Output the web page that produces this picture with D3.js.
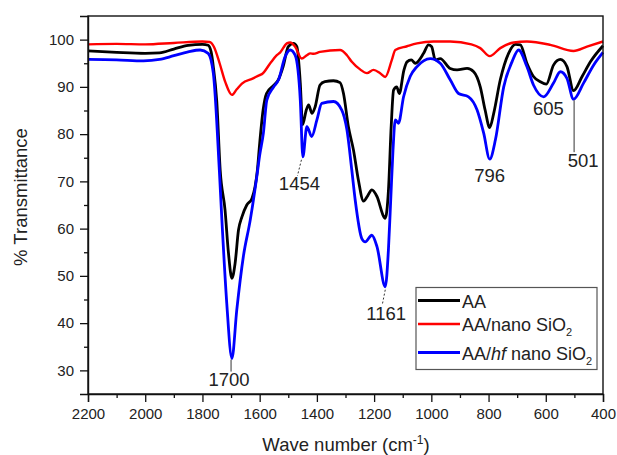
<!DOCTYPE html>
<html>
<head>
<meta charset="utf-8">
<script src="https://cdn.jsdelivr.net/npm/d3@7/dist/d3.min.js"></script>
<style>
  html, body { margin: 0; padding: 0; background: #fff; }
  svg { display: block; font-family: Arial, "Liberation Sans", sans-serif; }
</style>
</head>
<body>
<svg id="chart" width="617" height="455"></svg>
<script>
// FTIR spectra: wave number (cm-1) and % transmittance for each sample
const waveAA = [2200, 2100, 2000, 1950, 1900, 1850, 1800, 1780, 1770, 1762, 1750, 1738, 1721, 1709, 1697, 1686, 1674, 1662, 1645, 1627, 1616, 1608, 1600, 1588, 1576, 1553, 1535, 1518, 1500, 1482, 1470, 1458, 1450, 1437, 1429, 1417, 1406, 1389, 1372, 1342, 1319, 1307, 1290, 1272, 1255, 1237, 1222, 1208, 1190, 1165, 1161, 1150, 1140, 1132, 1121, 1112, 1096, 1085, 1070, 1056, 1027, 1010, 999, 986, 969, 934, 910, 875, 852, 829, 812, 796, 782, 759, 730, 706, 689, 666, 643, 619, 598, 573, 549, 526, 503, 473, 444, 400];
const transAA = [97.6, 97.3, 97.1, 97.2, 98.0, 98.8, 99.0, 98.8, 97.5, 94.3, 87.0, 72.4, 63.9, 54.8, 49.5, 52.6, 59.7, 62.5, 65.0, 66.4, 68.9, 72.4, 78.0, 85.1, 88.6, 90.2, 91.5, 94.3, 98.5, 99.2, 98.5, 90.8, 82.0, 85.1, 86.2, 84.4, 85.8, 90.4, 91.1, 91.3, 90.9, 88.6, 81.6, 76.6, 70.3, 65.8, 67.0, 68.2, 66.8, 62.4, 62.2, 68.0, 82.0, 89.3, 90.0, 88.6, 93.5, 95.3, 95.7, 95.0, 97.1, 98.9, 98.5, 95.7, 96.0, 93.9, 93.6, 93.9, 93.2, 90.0, 85.1, 81.4, 84.4, 91.5, 97.1, 99.0, 98.9, 95.0, 92.2, 91.1, 90.6, 94.6, 95.8, 94.3, 89.2, 92.2, 95.3, 98.7];

const waveNano = [2200, 2100, 2000, 1900, 1800, 1775, 1760, 1740, 1720, 1697, 1680, 1662, 1623, 1600, 1592, 1563, 1540, 1528, 1505, 1493, 1476, 1453, 1435, 1423, 1412, 1389, 1319, 1295, 1278, 1249, 1225, 1202, 1179, 1161, 1138, 1126, 1085, 1050, 992, 934, 860, 829, 796, 759, 712, 666, 584, 503, 456, 400];
const transNano = [99.0, 99.1, 99.0, 99.3, 99.6, 99.5, 98.5, 95.0, 91.0, 88.3, 89.5, 90.7, 91.8, 92.5, 92.7, 95.0, 96.7, 97.3, 99.2, 99.4, 98.5, 96.0, 96.7, 97.1, 97.0, 97.4, 97.8, 96.7, 95.3, 93.7, 92.9, 93.6, 92.9, 92.1, 95.7, 97.8, 98.6, 99.2, 99.6, 99.6, 99.0, 98.2, 96.5, 98.2, 99.4, 99.6, 98.9, 97.6, 98.5, 99.6];

const waveHf = [2200, 2100, 2006, 1950, 1900, 1850, 1808, 1780, 1762, 1741, 1732, 1715, 1697, 1680, 1657, 1633, 1610, 1600, 1587, 1575, 1552, 1534, 1511, 1493, 1476, 1458, 1449, 1435, 1418, 1400, 1383, 1342, 1313, 1295, 1278, 1266, 1243, 1231, 1208, 1190, 1161, 1150, 1142, 1134, 1126, 1115, 1097, 1074, 1050, 1004, 969, 934, 905, 870, 840, 817, 796, 776, 747, 718, 695, 666, 643, 607, 573, 549, 526, 503, 468, 433, 400];
const transHf = [95.8, 95.7, 95.5, 95.8, 96.6, 97.4, 97.8, 97.1, 92.9, 72.4, 61.8, 44.2, 32.5, 42.8, 54.1, 61.8, 71.0, 75.5, 80.2, 87.2, 89.9, 91.5, 96.4, 97.8, 96.7, 87.2, 75.2, 81.6, 79.5, 83.0, 86.5, 86.9, 85.1, 80.9, 72.4, 66.0, 57.9, 57.2, 58.6, 56.2, 47.7, 55.5, 66.0, 76.6, 83.0, 82.3, 87.9, 92.2, 94.3, 96.0, 95.0, 91.5, 88.6, 87.9, 85.1, 80.2, 74.7, 78.8, 90.0, 95.3, 97.8, 94.3, 90.4, 87.9, 90.8, 93.2, 91.8, 87.4, 90.8, 94.6, 97.3];

const seriesNames = ["AA", "AA/nano SiO2", "AA/hf nano SiO2"];
const seriesColors = ["#000000", "#ff0000", "#0000ff"];

const xTicks = [2200, 2000, 1800, 1600, 1400, 1200, 1000, 800, 600, 400];
const yTicks = [30, 40, 50, 60, 70, 80, 90, 100];

// Peak annotations: labelled wave number and the curve it points at
const peakWaves = [1700, 1454, 1161, 796, 605, 501];
const peakSeries = [2, 2, 2, 2, 2, 2];

const svg = d3.select("#chart");
const plotLeft = 88, plotRight = 603, plotTop = 16, plotBottom = 394;

const x = d3.scaleLinear().domain([2200, 400]).range([plotLeft, plotRight]);
const y = d3.scaleLinear().domain([25, 105]).range([plotBottom, plotTop]);

const series = [
  { wave: waveAA, trans: transAA },
  { wave: waveNano, trans: transNano },
  { wave: waveHf, trans: transHf }
];

const line = d3.line()
  .x(d => x(d[0]))
  .y(d => y(d[1]))
  .curve(d3.curveMonotoneX);

// draw order: AA, hf, nano on top
const drawOrder = [0, 2, 1];
const widths = [2.8, 2.4, 2.8];
drawOrder.forEach(i => {
  const pts = series[i].wave.map((w, k) => [w, series[i].trans[k]]);
  svg.append("path")
    .datum(pts)
    .attr("fill", "none")
    .attr("stroke", seriesColors[i])
    .attr("stroke-width", widths[i])
    .attr("stroke-linejoin", "round")
    .attr("d", line);
});

// frame
svg.append("rect")
  .attr("x", plotLeft).attr("y", plotTop)
  .attr("width", plotRight - plotLeft).attr("height", plotBottom - plotTop)
  .attr("fill", "none").attr("stroke", "#111").attr("stroke-width", 1.4);

// axes
const xAxis = d3.axisBottom(x).tickValues(xTicks).tickSize(8).tickPadding(6).tickFormat(d3.format("d"));
svg.append("g").attr("transform", `translate(0,${plotBottom})`).call(xAxis);
const xMinor = d3.axisBottom(x).tickValues(d3.range(2100, 400, -200)).tickSize(4).tickFormat("");
svg.append("g").attr("transform", `translate(0,${plotBottom})`).call(xMinor).select(".domain").remove();

const yAxis = d3.axisLeft(y).tickValues(yTicks).tickSize(8).tickPadding(6).tickFormat(d3.format("d"));
svg.append("g").attr("transform", `translate(${plotLeft},0)`).call(yAxis);
const yMinor = d3.axisLeft(y).tickValues(d3.range(35, 100, 10)).tickSize(4).tickFormat("");
svg.append("g").attr("transform", `translate(${plotLeft},0)`).call(yMinor).select(".domain").remove();

svg.selectAll(".domain").attr("stroke", "#111").attr("stroke-width", 1.4);
svg.selectAll(".tick line").attr("stroke", "#111").attr("stroke-width", 1.3);
svg.selectAll(".tick text").attr("font-size", 15).attr("fill", "#222")
  .attr("font-family", 'Arial, "Liberation Sans", sans-serif');

// axis titles
const xTitle = svg.append("text")
  .attr("x", 346).attr("y", 451)
  .attr("text-anchor", "middle").attr("font-size", 18.5).attr("fill", "#222");
xTitle.append("tspan").text("Wave number (cm");
xTitle.append("tspan").attr("font-size", 12).attr("dy", -7).text("-1");
xTitle.append("tspan").attr("dy", 7).text(")");

svg.append("text")
  .attr("transform", "translate(27,197) rotate(-90)")
  .attr("text-anchor", "middle").attr("font-size", 18.5).attr("fill", "#222")
  .text("% Transmittance");

// peak labels: anchored at the lowest point of the curve near each wave number
const minNear = (s, w) => {
  const ws = series[s].wave, ts = series[s].trans;
  let v = Infinity;
  ws.forEach((wv, k) => { if (Math.abs(wv - w) <= 12 && ts[k] < v) v = ts[k]; });
  return v;
};
const labelStyle = [
  { dx: -2, dy: 27, lead: "solid", l0: 1, l1: 13, ldx: 0 },
  { dx: -2, dy: 33, lead: "dash", l0: 3, l1: 19, ldx: -4 },
  { dx: 1, dy: 33, lead: "dash", l0: 3, l1: 18, ldx: -3 },
  { dx: 0, dy: 23, lead: "none" },
  { dx: 4, dy: 18, lead: "none" },
  { dx: 9, dy: 68, lead: "solid", l0: 1, l1: 53, ldx: 0 }
];
peakWaves.forEach((w, i) => {
  const px = x(w), py = y(minNear(peakSeries[i], w));
  const st = labelStyle[i];
  if (st.lead !== "none") {
    svg.append("line")
      .attr("x1", px).attr("y1", py + st.l0)
      .attr("x2", px + st.ldx).attr("y2", py + st.l1)
      .attr("stroke", "#333").attr("stroke-width", 1)
      .attr("stroke-dasharray", st.lead === "dash" ? "2,2" : null);
  }
  svg.append("text")
    .attr("x", px + st.dx).attr("y", py + st.dy)
    .attr("text-anchor", "middle").attr("font-size", 18.5).attr("fill", "#222")
    .text(String(w));
});

// legend
const lg = svg.append("g");
lg.append("rect")
  .attr("x", 416).attr("y", 287.5).attr("width", 181).attr("height", 82)
  .attr("fill", "#fff").attr("stroke", "#555").attr("stroke-width", 1.2);
const rowY = [300.5, 324, 352.5];
seriesNames.forEach((name, i) => {
  lg.append("line")
    .attr("x1", 418).attr("x2", 460).attr("y1", rowY[i]).attr("y2", rowY[i])
    .attr("stroke", seriesColors[i]).attr("stroke-width", i === 1 ? 2.4 : 2.8);
  const t = lg.append("text")
    .attr("x", 462).attr("y", rowY[i] + 7)
    .attr("font-size", 18).attr("fill", "#222");
  if (i === 0) {
    t.text(name);
  } else if (i === 1) {
    t.append("tspan").text("AA/nano SiO");
    t.append("tspan").attr("font-size", 11).attr("dy", 5).text("2");
  } else {
    t.append("tspan").text("AA/");
    t.append("tspan").attr("font-style", "italic").text("hf");
    t.append("tspan").text(" nano SiO");
    t.append("tspan").attr("font-size", 11).attr("dy", 5).text("2");
  }
});
</script>
</body>
</html>
